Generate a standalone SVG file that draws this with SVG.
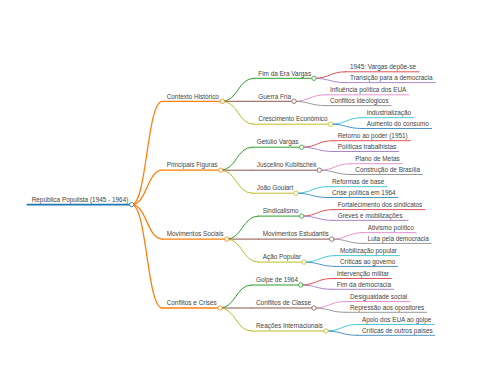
<svg xmlns="http://www.w3.org/2000/svg" width="480" height="384" viewBox="0 0 480 384">
<style>
.t{font-family:"Liberation Sans",Arial,Helvetica,sans-serif;font-size:6.4px;fill:#444}
path,line{fill:none;stroke-linecap:round}
.c{fill:#fff;stroke-width:0.8}
.w0{stroke-width:1.8}.w1{stroke-width:1.3}.w2{stroke-width:1}.w3{stroke-width:0.8}
.blue{stroke:#1f77b4}.orange{stroke:#ff7f0e}.green{stroke:#2ca02c}.red{stroke:#d62728}.purple{stroke:#9467bd}
.brown{stroke:#8c564b}.pink{stroke:#e377c2}.gray{stroke:#7f7f7f}.olive{stroke:#bcbd22}.cyan{stroke:#17becf}
</style>
<rect width="480" height="384" fill="#fff"/>
<g id="connectors">
<path class="w1 orange" d="M131.7,204.65 C146.95,204.65 146.95,101.3 162.2,101.3"/>
<path class="w1 orange" d="M131.7,204.65 C146.95,204.65 146.95,170.2 162.2,170.2"/>
<path class="w1 orange" d="M131.7,204.65 C146.95,204.65 146.95,239.1 162.2,239.1"/>
<path class="w1 orange" d="M131.7,204.65 C146.95,204.65 146.95,308 162.2,308"/>
<path class="w2 green" d="M222.3,101.3 C238.05,101.3 238.05,78.3 253.8,78.3"/>
<path class="w2 brown" d="M222.3,101.3 L253.8,101.3"/>
<path class="w2 olive" d="M222.3,101.3 C238.05,101.3 238.05,124.2 253.8,124.2"/>
<path class="w2 green" d="M220.7,170.2 C236.45,170.2 236.45,147.2 252.2,147.2"/>
<path class="w2 brown" d="M220.7,170.2 L252.2,170.2"/>
<path class="w2 olive" d="M220.7,170.2 C236.45,170.2 236.45,193.2 252.2,193.2"/>
<path class="w2 green" d="M226.7,239.1 C242.45,239.1 242.45,216.1 258.2,216.1"/>
<path class="w2 brown" d="M226.7,239.1 L258.2,239.1"/>
<path class="w2 olive" d="M226.7,239.1 C242.45,239.1 242.45,262.1 258.2,262.1"/>
<path class="w2 green" d="M220,308 C235.75,308 235.75,285 251.5,285"/>
<path class="w2 brown" d="M220,308 L251.5,308"/>
<path class="w2 olive" d="M220,308 C235.75,308 235.75,331 251.5,331"/>
<path class="w3 red" d="M314,78.3 C329.75,78.3 329.75,71.8 345.5,71.8"/>
<path class="w3 purple" d="M314,78.3 C329.75,78.3 329.75,82.6 345.5,82.6"/>
<path class="w3 pink" d="M294,101.3 C309.75,101.3 309.75,94.8 325.5,94.8"/>
<path class="w3 gray" d="M294,101.3 C309.75,101.3 309.75,105.6 325.5,105.6"/>
<path class="w3 cyan" d="M330.7,124.2 C346.45,124.2 346.45,117.7 362.2,117.7"/>
<path class="w3 blue" d="M330.7,124.2 C346.45,124.2 346.45,128.5 362.2,128.5"/>
<path class="w3 red" d="M301.7,147.2 C317.45,147.2 317.45,140.7 333.2,140.7"/>
<path class="w3 purple" d="M301.7,147.2 C317.45,147.2 317.45,151.5 333.2,151.5"/>
<path class="w3 pink" d="M319.3,170.2 C335.05,170.2 335.05,163.7 350.8,163.7"/>
<path class="w3 gray" d="M319.3,170.2 C335.05,170.2 335.05,174.5 350.8,174.5"/>
<path class="w3 cyan" d="M296,193.2 C311.75,193.2 311.75,186.7 327.5,186.7"/>
<path class="w3 blue" d="M296,193.2 C311.75,193.2 311.75,197.5 327.5,197.5"/>
<path class="w3 red" d="M301.7,216.1 C317.45,216.1 317.45,209.6 333.2,209.6"/>
<path class="w3 purple" d="M301.7,216.1 C317.45,216.1 317.45,220.4 333.2,220.4"/>
<path class="w3 pink" d="M331.7,239.1 C347.45,239.1 347.45,232.6 363.2,232.6"/>
<path class="w3 gray" d="M331.7,239.1 C347.45,239.1 347.45,243.4 363.2,243.4"/>
<path class="w3 cyan" d="M304,262.1 C319.75,262.1 319.75,255.6 335.5,255.6"/>
<path class="w3 blue" d="M304,262.1 C319.75,262.1 319.75,266.4 335.5,266.4"/>
<path class="w3 red" d="M300.7,285 C316.45,285 316.45,278.5 332.2,278.5"/>
<path class="w3 purple" d="M300.7,285 C316.45,285 316.45,289.3 332.2,289.3"/>
<path class="w3 pink" d="M314,308 C329.75,308 329.75,301.5 345.5,301.5"/>
<path class="w3 gray" d="M314,308 C329.75,308 329.75,312.3 345.5,312.3"/>
<path class="w3 cyan" d="M326,331 C341.75,331 341.75,324.5 357.5,324.5"/>
<path class="w3 blue" d="M326,331 C341.75,331 341.75,335.3 357.5,335.3"/>
</g>
<g id="root"><line class="w0 blue" x1="27.5" y1="204.65" x2="131.7" y2="204.65"/><circle class="c blue" cx="131.7" cy="204.65" r="2.2"/><text class="t" x="31.7" y="201.9">República Populista (1945 - 1964)</text></g>

<g id="contexto"><line class="w1 orange" x1="162.2" y1="101.3" x2="222.3" y2="101.3"/><circle class="c orange" cx="222.3" cy="101.3" r="2.2"/><text class="t" x="166.7" y="98.5">Contexto Histórico</text></g>
<g id="fim-era-vargas"><line class="w2 green" x1="253.8" y1="78.3" x2="314" y2="78.3"/><circle class="c green" cx="314" cy="78.3" r="2.2"/><text class="t" x="258.3" y="75.5">Fim da Era Vargas</text></g>
<g id="vargas-depoe"><line class="w3 red" x1="345.5" y1="71.8" x2="419" y2="71.8"/><text class="t" x="350" y="69">1945: Vargas depõe-se</text></g>
<g id="transicao"><line class="w3 purple" x1="345.5" y1="82.6" x2="435.4" y2="82.6"/><text class="t" x="350" y="79.8">Transição para a democracia</text></g>
<g id="guerra-fria"><line class="w2 brown" x1="253.8" y1="101.3" x2="294" y2="101.3"/><circle class="c brown" cx="294" cy="101.3" r="2.2"/><text class="t" x="258.3" y="98.5">Guerra Fria</text></g>
<g id="influencia"><line class="w3 pink" x1="325.5" y1="94.8" x2="408.6" y2="94.8"/><text class="t" x="330" y="92">Influência política dos EUA</text></g>
<g id="conflitos-ideologicos"><line class="w3 gray" x1="325.5" y1="105.6" x2="391.2" y2="105.6"/><text class="t" x="330" y="102.8">Conflitos ideológicos</text></g>
<g id="crescimento"><line class="w2 olive" x1="253.8" y1="124.2" x2="330.7" y2="124.2"/><circle class="c olive" cx="330.7" cy="124.2" r="2.2"/><text class="t" x="258.3" y="121.4">Crescimento Econômico</text></g>
<g id="industrializacao"><line class="w3 cyan" x1="362.2" y1="117.7" x2="413.7" y2="117.7"/><text class="t" x="366.7" y="114.9">Industrialização</text></g>
<g id="aumento-consumo"><line class="w3 blue" x1="362.2" y1="128.5" x2="431.5" y2="128.5"/><text class="t" x="366.7" y="125.7">Aumento do consumo</text></g>

<g id="principais"><line class="w1 orange" x1="162.2" y1="170.2" x2="220.7" y2="170.2"/><circle class="c orange" cx="220.7" cy="170.2" r="2.2"/><text class="t" x="166.7" y="167.4">Principais Figuras</text></g>
<g id="getulio"><line class="w2 green" x1="252.2" y1="147.2" x2="301.7" y2="147.2"/><circle class="c green" cx="301.7" cy="147.2" r="2.2"/><text class="t" x="256.7" y="144.4">Getúlio Vargas</text></g>
<g id="retorno"><line class="w3 red" x1="333.2" y1="140.7" x2="410.3" y2="140.7"/><text class="t" x="337.7" y="137.9">Retorno ao poder (1951)</text></g>
<g id="politicas-trab"><line class="w3 purple" x1="333.2" y1="151.5" x2="398.5" y2="151.5"/><text class="t" x="337.7" y="148.7">Políticas trabalhistas</text></g>
<g id="juscelino"><line class="w2 brown" x1="252.2" y1="170.2" x2="319.3" y2="170.2"/><circle class="c brown" cx="319.3" cy="170.2" r="2.2"/><text class="t" x="256.7" y="167.4">Juscelino Kubitschek</text></g>
<g id="plano-metas"><line class="w3 pink" x1="350.8" y1="163.7" x2="402.3" y2="163.7"/><text class="t" x="355.3" y="160.9">Plano de Metas</text></g>
<g id="brasilia"><line class="w3 gray" x1="350.8" y1="174.5" x2="422.2" y2="174.5"/><text class="t" x="355.3" y="171.7">Construção de Brasília</text></g>
<g id="joao-goulart"><line class="w2 olive" x1="252.2" y1="193.2" x2="296" y2="193.2"/><circle class="c olive" cx="296" cy="193.2" r="2.2"/><text class="t" x="256.7" y="190.4">João Goulart</text></g>
<g id="reformas"><line class="w3 cyan" x1="327.5" y1="186.7" x2="386.8" y2="186.7"/><text class="t" x="332" y="183.9">Reformas de base</text></g>
<g id="crise-1964"><line class="w3 blue" x1="327.5" y1="197.5" x2="397.8" y2="197.5"/><text class="t" x="332" y="194.7">Crise política em 1964</text></g>

<g id="movimentos"><line class="w1 orange" x1="162.2" y1="239.1" x2="226.7" y2="239.1"/><circle class="c orange" cx="226.7" cy="239.1" r="2.2"/><text class="t" x="166.7" y="236.3">Movimentos Sociais</text></g>
<g id="sindicalismo"><line class="w2 green" x1="258.2" y1="216.1" x2="301.7" y2="216.1"/><circle class="c green" cx="301.7" cy="216.1" r="2.2"/><text class="t" x="262.7" y="213.3">Sindicalismo</text></g>
<g id="fortalecimento"><line class="w3 red" x1="333.2" y1="209.6" x2="424.9" y2="209.6"/><text class="t" x="337.7" y="206.8">Fortalecimento dos sindicatos</text></g>
<g id="greves"><line class="w3 purple" x1="333.2" y1="220.4" x2="408.1" y2="220.4"/><text class="t" x="337.7" y="217.6">Greves e mobilizações</text></g>
<g id="estudantis"><line class="w2 brown" x1="258.2" y1="239.1" x2="331.7" y2="239.1"/><circle class="c brown" cx="331.7" cy="239.1" r="2.2"/><text class="t" x="262.7" y="236.3">Movimentos Estudantis</text></g>
<g id="ativismo"><line class="w3 pink" x1="363.2" y1="232.6" x2="416.1" y2="232.6"/><text class="t" x="367.7" y="229.8">Ativismo político</text></g>
<g id="luta"><line class="w3 gray" x1="363.2" y1="243.4" x2="431.4" y2="243.4"/><text class="t" x="367.7" y="240.6">Luta pela democracia</text></g>
<g id="acao-popular"><line class="w2 olive" x1="258.2" y1="262.1" x2="304" y2="262.1"/><circle class="c olive" cx="304" cy="262.1" r="2.2"/><text class="t" x="262.7" y="259.3">Ação Popular</text></g>
<g id="mobilizacao"><line class="w3 cyan" x1="335.5" y1="255.6" x2="399.4" y2="255.6"/><text class="t" x="340" y="252.8">Mobilização popular</text></g>
<g id="criticas-governo"><line class="w3 blue" x1="335.5" y1="266.4" x2="397.6" y2="266.4"/><text class="t" x="340" y="263.6">Críticas ao governo</text></g>

<g id="conflitos"><line class="w1 orange" x1="162.2" y1="308" x2="220" y2="308"/><circle class="c orange" cx="220" cy="308" r="2.2"/><text class="t" x="166.7" y="305.2">Conflitos e Crises</text></g>
<g id="golpe"><line class="w2 green" x1="251.5" y1="285" x2="300.7" y2="285"/><circle class="c green" cx="300.7" cy="285" r="2.2"/><text class="t" x="256" y="282.2">Golpe de 1964</text></g>
<g id="intervencao"><line class="w3 red" x1="332.2" y1="278.5" x2="391.5" y2="278.5"/><text class="t" x="336.7" y="275.7">Intervenção militar</text></g>
<g id="fim-democracia"><line class="w3 purple" x1="332.2" y1="289.3" x2="393.6" y2="289.3"/><text class="t" x="336.7" y="286.5">Fim da democracia</text></g>
<g id="classe"><line class="w2 brown" x1="251.5" y1="308" x2="314" y2="308"/><circle class="c brown" cx="314" cy="308" r="2.2"/><text class="t" x="256" y="305.2">Conflitos de Classe</text></g>
<g id="desigualdade"><line class="w3 pink" x1="345.5" y1="301.5" x2="409.8" y2="301.5"/><text class="t" x="350" y="298.7">Desigualdade social</text></g>
<g id="repressao"><line class="w3 gray" x1="345.5" y1="312.3" x2="426.8" y2="312.3"/><text class="t" x="350" y="309.5">Repressão aos opositores</text></g>
<g id="reacoes"><line class="w2 olive" x1="251.5" y1="331" x2="326" y2="331"/><circle class="c olive" cx="326" cy="331" r="2.2"/><text class="t" x="256" y="328.2">Reações Internacionais</text></g>
<g id="apoio-eua"><line class="w3 cyan" x1="357.5" y1="324.5" x2="434.2" y2="324.5"/><text class="t" x="362" y="321.7">Apoio dos EUA ao golpe</text></g>
<g id="criticas-paises"><line class="w3 blue" x1="357.5" y1="335.3" x2="434.6" y2="335.3"/><text class="t" x="362" y="332.5">Críticas de outros países</text></g>
</svg>
